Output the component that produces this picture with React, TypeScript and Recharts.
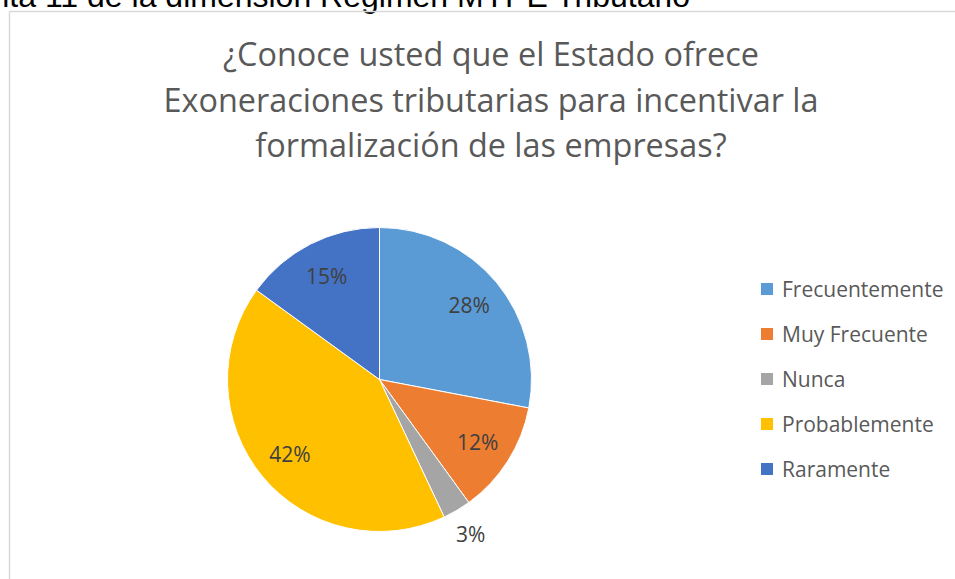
import React from "react";
import { PieChart, Pie, Cell, Legend } from "recharts";

const categories = ["Frecuentemente", "Muy Frecuente", "Nunca", "Probablemente", "Raramente"];
const values = [28, 12, 3, 42, 15];
const colors = ["#5B9BD5", "#ED7D31", "#A5A5A5", "#FFC000", "#4472C4"];
const titleLines = [
  "¿Conoce usted que el Estado ofrece",
  "Exoneraciones tributarias para incentivar la",
  "formalización de las empresas?",
];
const headerText = "Pregunta 11 de la dimensión Régimen MYPE Tributario";

const data = categories.map((name, i) => ({ name, value: values[i] }));

const FONT = "'Open Sans', Lato, sans-serif";
const RAD = Math.PI / 180;

const renderLabel = (props: any) => {
  const { cx, cy, midAngle, outerRadius, percent } = props;
  const small = percent < 0.05;
  const r = small ? outerRadius * 1.18 : outerRadius * 0.765;
  const x = cx + r * Math.cos(-midAngle * RAD);
  const y = cy + r * Math.sin(-midAngle * RAD);
  return (
    <text
      x={x}
      y={y}
      fill="#404040"
      fontSize={21}
      fontFamily={FONT}
      textAnchor="middle"
      dominantBaseline="central"
    >
      {`${Math.round(percent * 100)}%`}
    </text>
  );
};

const renderLegend = (props: any) => {
  const { payload } = props;
  return (
    <ul style={{ listStyle: "none", margin: 0, padding: 0 }}>
      {payload.map((entry: any, i: number) => (
        <li
          key={i}
          style={{ height: 45, display: "flex", alignItems: "center" }}
        >
          <span
            style={{
              display: "inline-block",
              width: 12,
              height: 12,
              background: entry.color,
              marginRight: 9,
              flexShrink: 0,
            }}
          />
          <span style={{ fontFamily: FONT, fontSize: 21, color: "#595959", whiteSpace: "nowrap" }}>
            {entry.value}
          </span>
        </li>
      ))}
    </ul>
  );
};

export default function App() {
  return (
    <div
      style={{
        position: "absolute",
        left: 0,
        top: 0,
        width: 955,
        height: 579,
        overflow: "hidden",
        background: "#fff",
      }}
    >
      <svg
        width={955}
        height={579}
        style={{ position: "absolute", left: 0, top: 0 }}
      >
        <text
          x={690}
          y={7}
          textAnchor="end"
          fontFamily="'Liberation Sans', Arial, sans-serif"
          fontSize={32}
          fill="#000"
        >
          {headerText}
        </text>
        <line x1={9.5} y1={11.5} x2={955} y2={11.5} stroke="#d9d9d9" strokeWidth={1.5} />
        <line x1={9.5} y1={11.5} x2={9.5} y2={579} stroke="#d9d9d9" strokeWidth={1.5} />
        {titleLines.map((t, i) => (
          <text
            key={i}
            x={491}
            y={66 + i * 45.5}
            textAnchor="middle"
            fontFamily={FONT}
            fontSize={32.4}
            fill="#595959"
          >
            {t}
          </text>
        ))}
      </svg>
      <div style={{ position: "absolute", left: 0, top: 0 }}>
        <PieChart width={955} height={579} margin={{ top: 0, right: 0, bottom: 0, left: 0 }}>
          <Pie
            data={data}
            dataKey="value"
            nameKey="name"
            cx={379.5}
            cy={379.5}
            outerRadius={152}
            startAngle={90}
            endAngle={-270}
            stroke="#fff"
            strokeWidth={1}
            label={renderLabel}
            labelLine={false}
            isAnimationActive={false}
          >
            {data.map((d, i) => (
              <Cell key={d.name} fill={colors[i]} />
            ))}
          </Pie>
          <Legend
            layout="vertical"
            verticalAlign="top"
            align="right"
            wrapperStyle={{ left: 761, top: 266.5, width: 194 }}
            content={renderLegend}
          />
        </PieChart>
      </div>
    </div>
  );
}
